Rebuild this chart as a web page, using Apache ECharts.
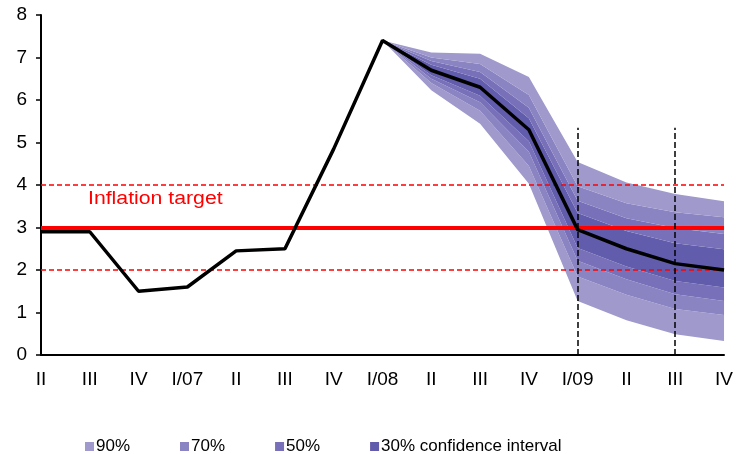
<!DOCTYPE html>
<html>
<head>
<meta charset="utf-8">
<script src="https://cdn.jsdelivr.net/npm/echarts@6/dist/echarts.min.js"></script>
<style>
  html, body { margin: 0; padding: 0; background: #fff; }
  #chart { width: 736px; height: 454px; }
</style>
</head>
<body>
<div id="chart"></div>
<script>
// quarters on the x axis
const categories = ['II', 'III', 'IV', 'I/07', 'II', 'III', 'IV', 'I/08', 'II', 'III', 'IV', 'I/09', 'II', 'III', 'IV'];
// actual + central forecast of inflation
const inflation = [2.9, 2.9, 1.5, 1.6, 2.45, 2.5, 4.85, 7.4, 6.7, 6.3, 5.3, 2.95, 2.5, 2.15, 2.0];
// fan bands, from I/08 onwards
const fanStart = 7;
const lo90 = [7.4, 6.23, 5.44, 4.03, 1.27, 0.82, 0.49, 0.33];
const lo70 = [7.4, 6.4, 5.75, 4.45, 1.85, 1.42, 1.08, 0.94];
const lo50 = [7.4, 6.5, 5.95, 4.78, 2.22, 1.78, 1.43, 1.27];
const lo30 = [7.4, 6.58, 6.1, 5.03, 2.52, 2.08, 1.74, 1.59];
const up30 = [7.4, 6.83, 6.5, 5.57, 3.34, 2.92, 2.63, 2.49];
const up50 = [7.4, 6.92, 6.66, 5.82, 3.63, 3.22, 2.99, 2.85];
const up70 = [7.4, 7.0, 6.85, 6.12, 3.97, 3.57, 3.36, 3.24];
const up90 = [7.4, 7.12, 7.09, 6.54, 4.54, 4.06, 3.79, 3.62];
// inflation target and tolerance band
const target = 3;
const tolerance = [2, 4];
// vertical markers (horizon lines)
const markers = ['I/09', 'III'];
const markerTop = 5.35;

const colors = { c90: '#9f99cc', c70: '#8b84c3', c50: '#7871b9', c30: '#615cab' };

const pad = arr => categories.map((_, i) => i < fanStart ? '-' : arr[i - fanStart]);
const diff = (a, b) => pad(a.map((v, i) => +(v - b[i]).toFixed(3)));

const band = (name, data, color) => ({
  name: name,
  type: 'line',
  stack: 'fan',
  data: data,
  symbol: 'none',
  lineStyle: { width: 0 },
  areaStyle: { color: color, opacity: 1 },
  itemStyle: { color: color },
  emphasis: { disabled: true },
  silent: true,
  z: 1
});

const chart = echarts.init(document.getElementById('chart'));

const option = {
  animation: false,
  grid: { left: 41, right: 11, top: 15, bottom: 99, containLabel: false },
  legend: {
    data: ['90%', '70%', '50%', '30% confidence interval'],
    left: 80,
    top: 433,
    icon: 'rect',
    itemWidth: 9,
    itemHeight: 9,
    itemGap: 50,
    textStyle: { fontFamily: 'Liberation Sans, Arial', fontSize: 17, color: '#000', padding: [0, 0, 0, -3] }
  },
  xAxis: {
    type: 'category',
    data: categories,
    boundaryGap: false,
    axisLine: { lineStyle: { color: '#000', width: 2 } },
    axisTick: { show: false },
    axisLabel: { color: '#000', fontSize: 19, fontFamily: 'Liberation Sans, Arial', margin: 15, interval: 0 },
    splitLine: { show: false }
  },
  yAxis: {
    type: 'value',
    min: 0,
    max: 8,
    interval: 1,
    axisLine: { show: true, lineStyle: { color: '#000', width: 2 } },
    axisTick: { show: true, length: 5, lineStyle: { color: '#000', width: 1.5 } },
    axisLabel: { color: '#000', fontSize: 19, fontFamily: 'Liberation Sans, Arial', margin: 14 },
    splitLine: { show: false }
  },
  series: [
    {
      name: 'base',
      type: 'line',
      stack: 'fan',
      data: pad(lo90),
      symbol: 'none',
      lineStyle: { width: 0 },
      silent: true,
      z: 1
    },
    band('90%', diff(lo70, lo90), colors.c90),
    band('70%', diff(lo50, lo70), colors.c70),
    band('50%', diff(lo30, lo50), colors.c50),
    band('30% confidence interval', diff(up30, lo30), colors.c30),
    band('50%', diff(up50, up30), colors.c50),
    band('70%', diff(up70, up50), colors.c70),
    band('90%', diff(up90, up70), colors.c90),
    {
      name: 'target',
      type: 'line',
      data: [],
      z: 3,
      markLine: {
        silent: true,
        symbol: 'none',
        label: { show: false },
        data: [
          { yAxis: target, lineStyle: { color: '#ff0000', width: 4, type: 'solid' } },
          { yAxis: tolerance[0], lineStyle: { color: '#ff0000', width: 1.5, type: [5, 3] } },
          { yAxis: tolerance[1], lineStyle: { color: '#ff0000', width: 1.5, type: [5, 3] } }
        ]
      }
    },
    {
      name: 'horizon',
      type: 'line',
      data: [],
      z: 4,
      markLine: {
        silent: true,
        symbol: 'none',
        label: { show: false },
        lineStyle: { color: '#000', width: 1.5, type: [6, 3] },
        data: markers.map(m => [
          { coord: [m === 'III' ? 13 : 11, 0] },
          { coord: [m === 'III' ? 13 : 11, markerTop] }
        ])
      }
    },
    {
      name: 'Inflation',
      type: 'line',
      data: inflation,
      symbol: 'none',
      lineStyle: { color: '#000', width: 3.5 },
      z: 5
    }
  ],
  graphic: [
    {
      type: 'text',
      left: 88,
      top: 190,
      scaleX: 1.18,
      style: { text: 'Inflation target', fill: '#ff0000', fontSize: 18, fontFamily: 'Liberation Sans, Arial' }
    }
  ]
};

chart.setOption(option);
</script>
</body>
</html>
